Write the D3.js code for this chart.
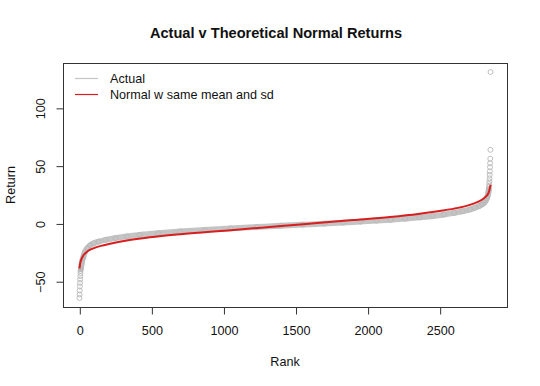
<!DOCTYPE html>
<html>
<head>
<meta charset="utf-8">
<script src="https://cdn.jsdelivr.net/npm/d3@7"></script>
<style>
  body { margin: 0; background: #fff; }
  svg { display: block; font-family: Arial, "Liberation Sans", sans-serif; }
</style>
</head>
<body>
<svg id="chart" width="540" height="386"></svg>
<script>
// values
const nObs = 2853;
const rankTicks = [0, 500, 1000, 1500, 2000, 2500];
const returnTicks = [-50, 0, 50, 100];

// sorted actual returns (rank, return)
const actualRank = [1, 2, 3, 4, 5, 6, 7, 8, 9, 10, 12, 15, 19, 24, 30, 40, 55, 74, 100, 135, 180, 250, 330, 420, 548, 700, 870, 1050, 1230, 1400, 1550, 1700, 1830, 1950, 2060, 2160, 2260, 2360, 2450, 2530, 2600, 2660, 2710, 2745, 2775, 2795, 2810, 2820, 2827, 2832, 2836, 2839, 2841, 2843, 2844, 2845, 2846, 2847, 2848, 2849, 2850, 2851, 2852, 2853];
const actualReturn = [-64.5, -61.5, -58, -54.5, -51.5, -48.5, -45.5, -43, -41, -39.5, -38, -35.5, -33, -30.5, -28, -24.5, -21.5, -19, -17.2, -15.7, -14.3, -12.7, -11.3, -10, -8.5, -7, -5.6, -4.3, -3.1, -2, -1.1, -0.2, 0.7, 1.6, 2.4, 3.1, 4.1, 5.2, 6.4, 7.7, 9.1, 10.5, 12.1, 13.6, 15.1, 16.5, 18, 19.8, 21.7, 23.6, 25.6, 27.6, 29.6, 31.8, 34, 36.5, 39, 42, 45, 48.7, 52, 56, 63.7, 131];

// sorted normal draws with the same mean and sd (rank, return)
const normalRank = [1, 3, 5, 8, 12, 17, 25, 40, 60, 97, 150, 213, 329, 490, 675, 906, 1150, 1400, 1650, 1900, 2155, 2350, 2500, 2600, 2680, 2740, 2790, 2820, 2838, 2847, 2853];
const normalReturn = [-39, -37.5, -35.5, -33.5, -31.8, -30.3, -28.3, -26, -23.8, -21.6, -19.4, -17.6, -14.8, -12, -9.6, -7.3, -4.8, -2.3, 0.3, 2.9, 5.6, 8.2, 10.8, 12.8, 15, 17.4, 20.3, 23.2, 26.2, 29.7, 33.5];

const legendLabels = ["Actual", "Normal w same mean and sd"];
const legendColors = ["#c4c4c4", "#d81e1e"];

const plot = { left: 63, right: 507, top: 63, bottom: 307 };
const fontSize = 12.6;
const svg = d3.select("#chart");

// R style 4% padding on both axes
const xPad = (nObs - 1) * 0.04;
const x = d3.scaleLinear()
    .domain([1 - xPad, nObs + xPad])
    .range([plot.left, plot.right]);

const yMin = d3.min(actualReturn), yMax = d3.max(actualReturn);
const yPad = (yMax - yMin) * 0.04;
const y = d3.scaleLinear()
    .domain([yMin - yPad, yMax + yPad])
    .range([plot.bottom, plot.top]);

const actual = actualRank.map((r, i) => ({ rank: r, value: actualReturn[i] }));
const normal = normalRank.map((r, i) => ({ rank: r, value: normalReturn[i] }));

const line = d3.line()
    .x(d => x(d.rank))
    .y(d => y(d.value))
    .curve(d3.curveMonotoneX);

// dense body of the actual points shows as a grey band
svg.append("path")
    .datum(actual.filter(d => d.value > -40 && d.value < 31))
    .attr("d", line)
    .attr("fill", "none")
    .attr("stroke", "#c4c4c4")
    .attr("stroke-width", 5.8)
    .attr("stroke-linecap", "round")
    .attr("stroke-linejoin", "round");

svg.append("g")
    .selectAll("circle")
    .data(actual)
    .join("circle")
    .attr("cx", d => x(d.rank))
    .attr("cy", d => y(d.value))
    .attr("r", 2.5)
    .attr("fill", "none")
    .attr("stroke", "#b8b8b8")
    .attr("stroke-width", 0.9);

svg.append("path")
    .datum(normal)
    .attr("d", line)
    .attr("fill", "none")
    .attr("stroke", "#d81e1e")
    .attr("stroke-width", 2);

// plot box
svg.append("rect")
    .attr("x", plot.left + 0.5)
    .attr("y", plot.top + 0.5)
    .attr("width", plot.right - plot.left)
    .attr("height", plot.bottom - plot.top)
    .attr("fill", "none")
    .attr("stroke", "#333");

// x axis
const xAxis = svg.append("g")
    .attr("transform", `translate(0.5,${plot.bottom + 0.5})`)
    .call(d3.axisBottom(x).tickValues(rankTicks).tickSize(7).tickPadding(12).tickFormat(d3.format("d")));
xAxis.select(".domain").remove();
xAxis.selectAll("line").attr("stroke", "#333");
xAxis.selectAll("text").attr("font-size", fontSize).attr("fill", "#111").attr("font-family", null);

// y axis, labels rotated like R
const yAxis = svg.append("g")
    .attr("transform", `translate(${plot.left + 0.5},0.5)`)
    .call(d3.axisLeft(y).tickValues(returnTicks).tickSize(7).tickFormat(d3.format("d")));
yAxis.select(".domain").remove();
yAxis.selectAll("line").attr("stroke", "#333");
yAxis.selectAll("text")
    .attr("x", 0)
    .attr("dy", "0.35em")
    .attr("transform", "translate(-22.5,0) rotate(-90)")
    .attr("text-anchor", "middle")
    .attr("font-size", fontSize)
    .attr("fill", "#111")
    .attr("font-family", null);

// titles
svg.append("text")
    .attr("x", 276)
    .attr("y", 38)
    .attr("text-anchor", "middle")
    .attr("font-size", 14.6)
    .attr("font-weight", "bold")
    .attr("fill", "#111")
    .text("Actual v Theoretical Normal Returns");

svg.append("text")
    .attr("x", 285)
    .attr("y", 366)
    .attr("text-anchor", "middle")
    .attr("font-size", fontSize)
    .attr("fill", "#111")
    .text("Rank");

svg.append("text")
    .attr("transform", `translate(15,${(plot.top + plot.bottom) / 2}) rotate(-90)`)
    .attr("text-anchor", "middle")
    .attr("font-size", fontSize)
    .attr("fill", "#111")
    .text("Return");

// legend (no frame)
const legend = svg.append("g")
    .selectAll("g")
    .data(legendLabels)
    .join("g")
    .attr("transform", (d, i) => `translate(75,${78.5 + i * 16})`);

legend.append("line")
    .attr("x1", 0).attr("x2", 23)
    .attr("stroke", (d, i) => legendColors[i])
    .attr("stroke-width", 1.2);

legend.append("text")
    .attr("x", 35)
    .attr("dy", "0.35em")
    .attr("font-size", fontSize)
    .attr("fill", "#111")
    .text(d => d);
</script>
</body>
</html>
